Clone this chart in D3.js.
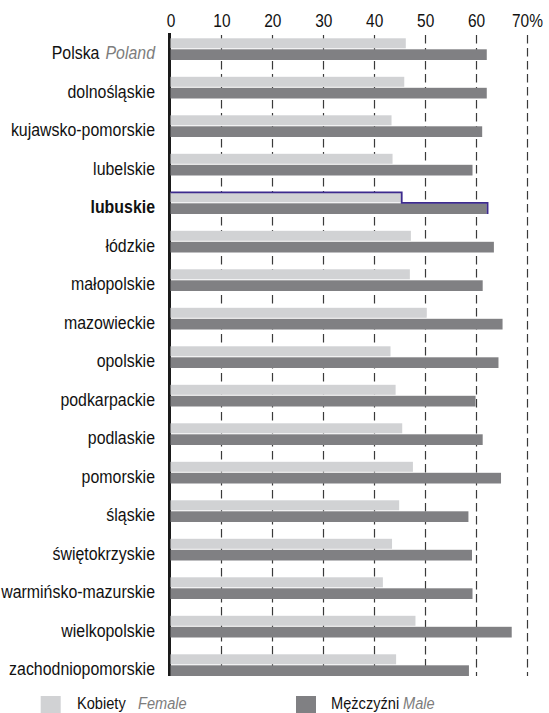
<!DOCTYPE html>
<html><head><meta charset="utf-8">
<script src="https://cdn.jsdelivr.net/npm/d3@7"></script>
<style>
html,body{margin:0;padding:0;background:#fff;}
svg{display:block;}
text{font-family:"Liberation Sans",Arial,sans-serif;}
</style></head>
<body>
<script>
const regions = ["Polska","dolnośląskie","kujawsko-pomorskie","lubelskie","lubuskie","łódzkie","małopolskie","mazowieckie","opolskie","podkarpackie","podlaskie","pomorskie","śląskie","świętokrzyskie","warmińsko-mazurskie","wielkopolskie","zachodniopomorskie"];
const female = [46.2,45.9,43.4,43.6,45.4,47.2,47.0,50.3,43.2,44.2,45.5,47.6,44.9,43.5,41.7,48.1,44.3];
const male   = [62.1,62.1,61.2,59.3,62.1,63.5,61.3,65.2,64.4,59.9,61.3,64.9,58.5,59.2,59.3,67.0,58.6];
const tickValues = [0,10,20,30,40,50,60,70];
const tickLabels = ["0","10","20","30","40","50","60","70%"];
const highlight = "lubuskie";
const legendItems = [["Kobiety","Female"],["Mężczyźni","Male"]];

(function(){
const W=549,H=713, SX=0.86;
const svg=d3.select("body").append("svg").attr("width",W).attr("height",H);
const x=d3.scaleLinear().domain([0,70]).range([170.5,527]);
const y=d3.scaleBand().domain(regions).range([38.3,38.3+17*38.5]).paddingInner(0).paddingOuter(0);
const yTop=33, yBot=676;
const cF="#d1d2d4", cM="#808083";

// gridlines
svg.append("g").selectAll("line").data(tickValues.slice(1)).join("line")
  .attr("x1",d=>Math.round(x(d))+0.5).attr("x2",d=>Math.round(x(d))+0.5)
  .attr("y1",yTop+2).attr("y2",yBot)
  .attr("stroke","#3a3a3a").attr("stroke-width",1.2).attr("stroke-dasharray","8.5,4.5");
// zero line
svg.append("line").attr("x1",x(0)-1).attr("x2",x(0)-1).attr("y1",yTop).attr("y2",yBot)
  .attr("stroke","#1a1a1a").attr("stroke-width",3);

// top axis labels
const axis=d3.axisTop(x).tickValues(tickValues).tickFormat((d,i)=>tickLabels[i]).tickSize(0).tickPadding(0);
const ag=svg.append("g").attr("transform","translate(0,27)").call(axis);
ag.select(".domain").remove();
ag.selectAll(".tick text").attr("font-size",18).attr("fill","#111").attr("transform",`scale(${SX},1)`)
  .style("font-family",'"Liberation Sans",Arial,sans-serif');

// bars
const fh=10, mh=10.7;
const g=svg.append("g");
g.selectAll(".f").data(regions).join("rect")
  .attr("x",x(0)).attr("y",d=>y(d)).attr("width",(d,i)=>x(female[i])-x(0)).attr("height",fh).attr("fill",cF);
g.selectAll(".m").data(regions).join("rect")
  .attr("x",x(0)).attr("y",d=>y(d)+fh+1).attr("width",(d,i)=>x(male[i])-x(0)).attr("height",mh).attr("fill",cM);

// highlight outline
const hi=regions.indexOf(highlight);
const y0=y(highlight);
svg.append("path")
  .attr("d",`M${x(0)},${y0} H${x(female[hi])} V${y0+fh+0.5} H${x(male[hi])+0.8} V${y0+fh+1+mh}`)
  .attr("fill","none").attr("stroke","#3d2b8e").attr("stroke-width",1.8);

// labels
const lg=svg.append("g");
regions.forEach((r,i)=>{
  const t=lg.append("text").attr("transform",`translate(155,${y(r)+21}) scale(${SX},1)`).attr("text-anchor","end")
    .attr("font-size",18.5).attr("fill","#111");
  if(r===highlight){t.attr("font-weight","bold").text(r);}
  else if(i===0){
    t.append("tspan").text("Polska");
    t.append("tspan").attr("dx",7).attr("font-style","italic").attr("fill","#7d7d7d").text("Poland");
  } else t.text(r);
});

// legend
const legX=[{sq:40.7,t1:77,t2:138},{sq:296,t1:331,t2:403}];
legendItems.forEach((it,i)=>{
  svg.append("rect").attr("x",legX[i].sq).attr("y",696).attr("width",20).attr("height",17).attr("fill",i===0?cF:cM);
  svg.append("text").attr("transform",`translate(${legX[i].t1},709) scale(${SX},1)`).attr("font-size",17).attr("fill","#111").text(it[0]);
  svg.append("text").attr("transform",`translate(${legX[i].t2},709) scale(${SX},1)`).attr("font-size",17).attr("font-style","italic").attr("fill","#7d7d7d").text(it[1]);
});
})();
</script>
</body></html>
